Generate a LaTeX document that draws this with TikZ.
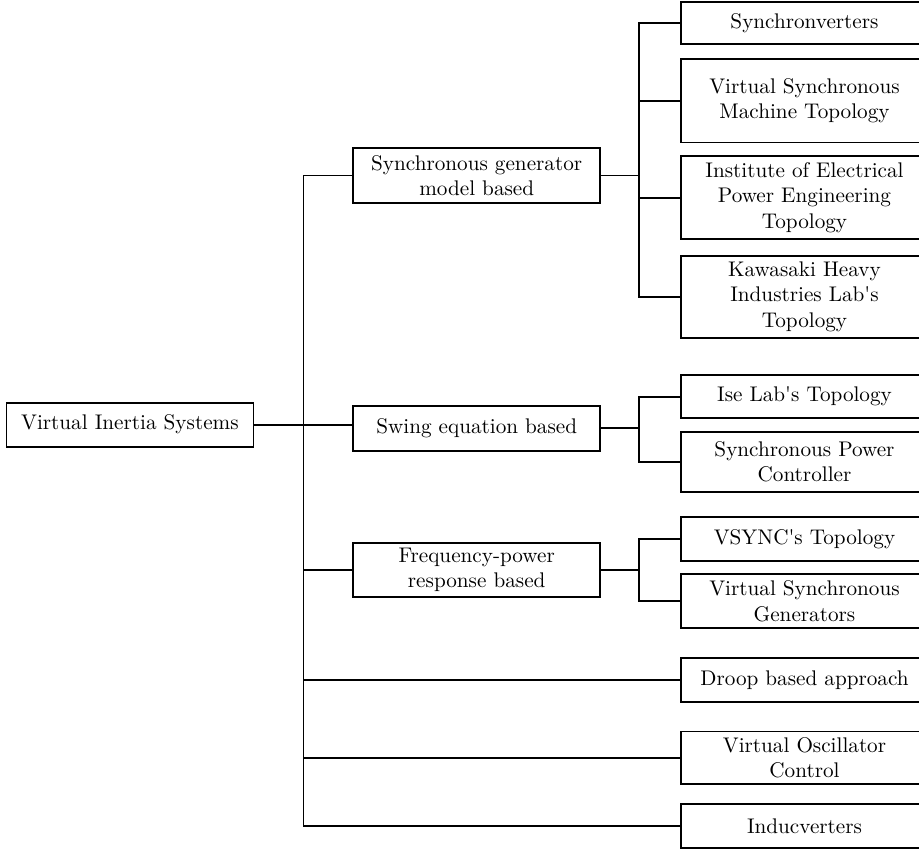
\documentclass[tikz,border=0pt]{standalone}
\tikzset{
  x=0.472pt, y=-0.472pt,
  box/.style={draw, line width=0.8pt, rectangle, inner sep=0pt,
    minimum width=116.6pt, align=center},
  link/.style={line width=0.8pt}
}
\begin{document}
\begin{tikzpicture}
\clip (0,0) rectangle (919,850);

% root and first-level categories
\node[box, minimum height=20.8pt] (root)  at (129.9,424.7) {Virtual Inertia Systems};
\node[box, minimum height=25.7pt] (sg)    at (476.7,175.5) {Synchronous generator\\model based};
\node[box, minimum height=21.1pt] (swing) at (476.7,428.3) {Swing equation based};
\node[box, minimum height=25.8pt] (freq)  at (476.7,570.0) {Frequency-power\\response based};

% leaves
\node[box, minimum height=20.1pt] (sync)  at (804.5,23.0)  {Synchronverters};
\node[box, minimum height=39.6pt] (vsm)   at (804.5,100.7) {Virtual Synchronous\\Machine Topology};
\node[box, minimum height=39.3pt] (ieee)  at (804.5,197.7) {Institute of Electrical\\Power Engineering\\Topology};
\node[box, minimum height=38.6pt] (kaw)   at (804.5,296.8) {Kawasaki Heavy\\Industries Lab\textquotesingle s\\Topology};
\node[box, minimum height=20.4pt] (ise)   at (804.5,396.7) {Ise Lab\textquotesingle s Topology};
\node[box, minimum height=28.3pt] (spc)   at (804.5,461.7) {Synchronous Power\\Controller};
\node[box, minimum height=20.9pt] (vsync) at (804.5,538.8) {VSYNC\textquotesingle s Topology};
\node[box, minimum height=25.5pt] (vsg)   at (804.5,601.3) {Virtual Synchronous\\Generators};
\node[box, minimum height=20.8pt] (droop) at (804.5,680.3) {Droop based approach};
\node[box, minimum height=24.7pt] (voc)   at (804.5,757.8) {Virtual Oscillator\\Control};
\node[box, minimum height=20.9pt] (induc) at (804.5,826.2) {Inducverters};

% trunk positions
\coordinate (tA) at (303.5,0);
\coordinate (tB) at (639,0);

% main trunk
\draw[link] (root.east) -- (root.east -| swing.west);
\draw[link] (sg.west) -- (sg.west -| tA) -- (induc.west -| tA) -- (induc.west);
\draw[link] (freq.west) -- (freq.west -| tA);
\draw[link] (droop.west) -- (droop.west -| tA);
\draw[link] (voc.west) -- (voc.west -| tA);

% synchronous generator branch
\draw[link] (sg.east) -- (sg.east -| tB);
\draw[link] (sync.west) -- (sync.west -| tB) -- (kaw.west -| tB) -- (kaw.west);
\draw[link] (vsm.west) -- (vsm.west -| tB);
\draw[link] (ieee.west) -- (ieee.west -| tB);

% swing equation branch
\draw[link] (swing.east) -- (swing.east -| tB);
\draw[link] (ise.west) -- (ise.west -| tB) -- (spc.west -| tB) -- (spc.west);

% frequency-power branch
\draw[link] (freq.east) -- (freq.east -| tB);
\draw[link] (vsync.west) -- (vsync.west -| tB) -- (vsg.west -| tB) -- (vsg.west);
\end{tikzpicture}
\end{document}
